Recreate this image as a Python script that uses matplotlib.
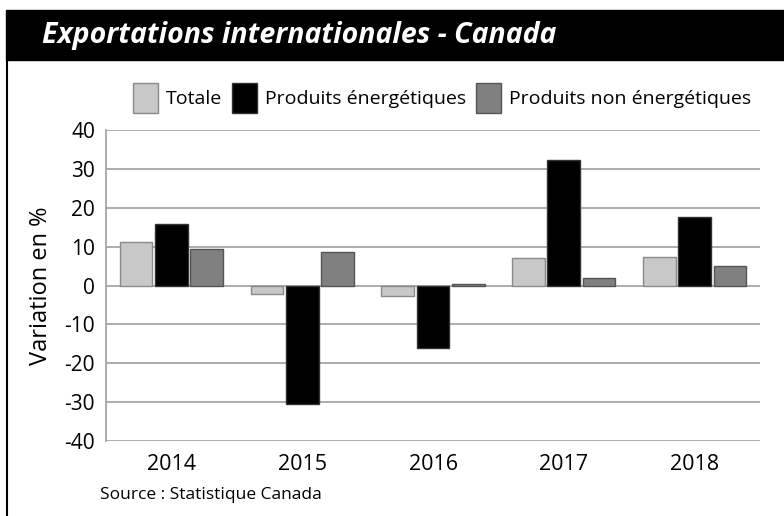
import matplotlib.pyplot as plt
import numpy as np
from matplotlib.patches import Rectangle
from matplotlib.lines import Line2D

YEARS = ["2014", "2015", "2016", "2017", "2018"]
SERIES = ["Totale", "Produits énergétiques", "Produits non énergétiques"]
TOTALE = [11.3, -2.3, -2.7, 7.2, 7.4]
ENERGIE = [15.9, -30.5, -16.2, 32.4, 17.7]
NON_ENERGIE = [9.5, 8.5, 0.5, 2.0, 5.1]
Y_TICKS = [-40, -30, -20, -10, 0, 10, 20, 30, 40]

COLORS = ["#c8c8c8", "#000000", "#808080"]
EDGES = ["#8a8a8a", "#333333", "#555555"]

plt.rcParams["font.family"] = ["Open Sans", "DejaVu Sans"]

fig = plt.figure(figsize=(7.84, 5.16), dpi=100)
W, H = 784, 516

# title band and left frame line
fig.patches.append(Rectangle((6 / W, 1 - 60 / H), 1, 50 / H,
                             transform=fig.transFigure, color="black", zorder=0))
fig.lines.append(Line2D([7 / W, 7 / W], [0, 1 - 60 / H], transform=fig.transFigure,
                        color="black", lw=1.5))
fig.text(42 / W, 1 - 36 / H, "Exportations internationales - Canada", color="white",
         fontsize=20.5, fontweight="bold", fontstyle="italic", va="center", ha="left")

ax = fig.add_axes([106 / W, 1 - 441 / H, 654 / W, 311 / H])

x = np.arange(len(YEARS))
width = 0.25
offsets = [-0.27, 0, 0.27]
for vals, off, c, e, name in zip([TOTALE, ENERGIE, NON_ENERGIE], offsets, COLORS, EDGES, SERIES):
    ax.bar(x + off, vals, width, color=c, edgecolor=e, linewidth=1, label=name, zorder=3)

ax.set_xlim(-0.5, 4.5)
ax.set_ylim(-40, 40)
ax.set_yticks(Y_TICKS)
ax.set_yticklabels([str(t) for t in Y_TICKS], fontsize=15)
ax.set_xticks(x)
ax.set_xticklabels(YEARS, fontsize=15.5)
ax.tick_params(length=0, pad=8)
ax.tick_params(axis="x", pad=9)
ax.grid(axis="y", color="#a6a6a6", lw=1.3, zorder=0)
for s in ["top", "right", "bottom"]:
    ax.spines[s].set_visible(False)
ax.spines["left"].set_color("#a6a6a6")
ax.spines["left"].set_linewidth(1.3)
ax.set_ylabel("Variation en %", fontsize=17, labelpad=8)

handles, labels = ax.get_legend_handles_labels()
fig.legend(handles, labels, loc="center", bbox_to_anchor=(442 / W, 1 - 98 / H), ncol=3,
           frameon=False, fontsize=14, handlelength=1.3, handleheight=2.0,
           handletextpad=0.4, columnspacing=0.5)

fig.text(100 / W, 1 - 495 / H, "Source : Statistique Canada", fontsize=12.5, va="center")

fig.savefig("out.png", dpi=100)
